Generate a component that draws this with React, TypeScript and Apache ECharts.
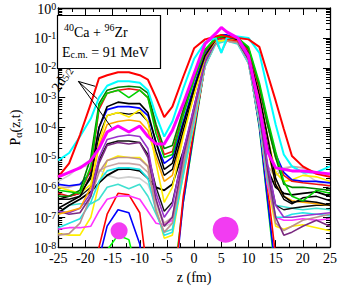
import React, { useEffect, useRef } from 'react';
import * as echarts from 'echarts';

// z positions (fm) where the curves are sampled
const Z = [-25, -23, -21, -19, -17.5, -16, -14, -12, -10, -8.5, -7, -5.5, -4, -2, 0, 2, 4, 5, 6, 8, 10, 12, 13.5, 15, 16.5, 18, 20, 22.5, 25];

// log10 of P_alpha(z,t)
const redLogP = [-5.65, -5.2, -4.25, -3.2, -2.35, -2.25, -2.15, -2.15, -2.25, -2.4, -3.0, -3.65, -3.3, -2.3, -1.35, -1.05, -0.95, -0.9, -0.95, -1.0, -1.05, -1.3, -2.2, -3.1, -4.05, -4.95, -5.3, -5.55, -5.65];
const cyanLogP = [-5.1, -4.85, -4.3, -3.7, -3.0, -2.6, -2.45, -2.45, -2.5, -2.75, -3.6, -4.3, -3.8, -2.7, -1.7, -1.15, -1.0, -1.5, -1.0, -0.95, -1.0, -1.5, -2.7, -3.9, -4.9, -5.3, -5.5, -5.5, -5.3];
const greenLogP = [-6.1, -6.15, -6.2, -5.3, -3.3, -2.85, -2.75, -3.0, -2.75, -3.0, -4.2, -5.0, -4.9, -3.6, -2.4, -1.4, -1.0, -0.95, -0.95, -1.0, -1.3, -2.5, -3.7, -4.8, -5.8, -6.3, -6.45, -6.1, -6.2];
const dkGreenLogP = [-6.3, -6.3, -6.1, -5.0, -3.2, -2.75, -2.65, -2.62, -2.65, -2.85, -3.9, -4.7, -4.6, -3.4, -2.3, -1.4, -1.0, -0.95, -0.95, -1.0, -1.35, -2.6, -3.9, -5.0, -5.9, -6.0, -6.0, -6.05, -6.1];
const red2LogP = [-6.2, -6.3, -6.2, -5.4, -3.4, -2.85, -2.75, -2.7, -2.75, -3.0, -4.0, -4.9, -4.8, -3.5, -2.4, -1.45, -1.05, -1.0, -1.05, -1.1, -1.4, -2.7, -3.9, -5.0, -5.6, -5.8, -5.85, -5.9, -5.95];
const blackLogP = [-6.7, -6.5, -6.3, -5.6, -4.0, -3.3, -3.15, -3.2, -3.2, -3.5, -4.5, -5.4, -5.2, -3.9, -2.7, -1.6, -1.05, -0.95, -0.95, -1.05, -1.5, -2.9, -4.3, -5.7, -6.3, -6.5, -6.45, -6.5, -6.6];
const blueLogP = [-5.9, -5.95, -5.9, -5.5, -4.0, -3.4, -3.3, -3.3, -3.35, -3.6, -4.5, -5.2, -5.0, -3.8, -2.6, -1.5, -1.0, -0.9, -0.9, -1.0, -1.4, -2.6, -3.8, -4.9, -5.5, -5.75, -5.8, -5.8, -5.85];
const yellowLogP = [-6.0, -6.1, -6.2, -5.9, -4.5, -3.6, -3.5, -3.65, -3.4, -3.8, -5.2, -6.5, -6.0, -4.3, -2.9, -1.6, -1.1, -1.1, -1.05, -1.1, -1.5, -3.0, -4.3, -5.5, -5.8, -5.75, -5.6, -5.65, -5.8];
const black2LogP = [-6.4, -6.3, -6.2, -5.7, -4.3, -3.6, -3.5, -3.55, -3.5, -3.8, -4.8, -5.6, -5.4, -4.1, -2.8, -1.6, -1.05, -1.0, -1.0, -1.05, -1.55, -3.1, -4.6, -5.9, -6.4, -6.55, -6.35, -6.3, -6.45];
const orangeLogP = [-6.9, -6.8, -6.7, -6.0, -4.6, -3.9, -3.8, -3.75, -3.8, -4.1, -5.0, -5.8, -5.6, -4.2, -2.9, -1.65, -1.05, -1.0, -1.0, -1.05, -1.55, -3.2, -4.7, -5.9, -6.3, -6.45, -6.5, -6.55, -6.6];
const magentaLogP = [-5.65, -5.5, -5.35, -5.1, -4.7, -4.15, -3.95, -4.15, -3.95, -4.3, -4.55, -4.55, -4.1, -3.2, -2.2, -1.2, -0.85, -0.65, -0.8, -1.0, -1.6, -3.3, -4.8, -5.35, -5.4, -5.45, -5.45, -5.5, -5.55];
const purpleLogP = [-6.8, -6.85, -6.7, -6.2, -5.0, -4.4, -4.3, -4.25, -4.3, -4.7, -6.2, -7.0, -6.6, -4.8, -3.3, -1.75, -1.1, -1.05, -1.05, -1.1, -1.65, -3.4, -5.2, -6.6, -7.0, -7.0, -6.95, -6.9, -6.85];
const violetLogP = [-6.8, -6.9, -6.85, -6.3, -5.2, -4.6, -4.5, -4.55, -4.5, -5.0, -6.4, -7.3, -7.0, -5.0, -3.4, -1.8, -1.1, -1.05, -1.05, -1.1, -1.7, -3.5, -5.4, -7.0, -7.6, -7.5, -7.3, -7.1, -7.3];
const black3LogP = [-6.4, -6.4, -6.3, -6.0, -5.1, -4.55, -4.45, -4.45, -4.5, -4.9, -6.0, -6.8, -6.5, -4.9, -3.3, -1.75, -1.1, -1.0, -1.0, -1.1, -1.7, -3.5, -5.3, -6.6, -6.75, -6.7, -6.65, -6.6, -6.6];
const rosyLogP = [-7.6, -7.55, -7.2, -6.3, -5.5, -5.1, -5.0, -5.0, -5.05, -5.3, -6.8, -7.5, -7.2, -5.3, -3.6, -1.85, -1.15, -1.45, -1.1, -1.15, -1.75, -3.6, -5.6, -7.2, -7.45, -7.3, -7.1, -7.0, -6.9];
const tanLogP = [-6.0, -6.0, -5.9, -5.7, -5.45, -5.3, -5.2, -5.2, -5.25, -5.5, -6.5, -7.2, -7.0, -5.2, -3.5, -1.85, -1.1, -1.5, -1.1, -1.15, -1.75, -3.6, -5.3, -5.6, -5.4, -5.3, -5.35, -5.5, -5.6];
const cyan2LogP = [-7.35, -7.2, -7.05, -6.5, -5.8, -5.45, -5.35, -5.35, -5.4, -5.7, -6.8, -7.6, -7.5, -5.5, -3.7, -1.9, -1.15, -1.1, -1.1, -1.15, -1.8, -3.7, -5.6, -7.0, -7.0, -6.9, -6.85, -6.9, -6.95];
const black4LogP = [-6.85, -6.6, -6.4, -6.15, -5.85, -5.6, -5.4, -5.38, -5.45, -5.7, -6.0, -6.1, -5.9, -4.8, -3.5, -1.85, -1.1, -1.05, -1.05, -1.1, -1.75, -3.6, -5.4, -6.0, -6.2, -6.25, -6.2, -6.15, -6.3];
const grayLogP = [-5.8, -5.6, -5.3, -5.3, -5.4, -5.6, -5.7, -5.65, -5.7, -5.9, -6.6, -7.3, -7.2, -5.4, -3.7, -1.9, -1.15, -1.1, -1.1, -1.15, -1.8, -3.7, -5.5, -5.5, -5.35, -5.3, -5.5, -5.8, -6.0];
const turqLogP = [-6.9, -6.6, -6.55, -6.55, -6.4, -6.0, -5.9, -6.05, -5.9, -6.3, -6.9, -7.5, -7.4, -5.6, -3.8, -1.95, -1.2, -1.15, -1.1, -1.2, -1.85, -3.8, -5.8, -6.6, -6.65, -6.7, -6.75, -6.7, -6.75];
const magenta2LogP = [-7.4, -7.35, -7.35, -7.3, -6.8, -6.4, -6.3, -6.28, -6.4, -6.8, -7.2, -7.25, -7.1, -5.5, -3.8, -1.95, -1.15, -1.1, -1.1, -1.15, -1.85, -3.8, -5.9, -7.0, -7.1, -7.1, -7.05, -7.1, -7.05];
const yellow2LogP = [-7.55, -7.6, -7.6, -7.0, -5.9, -5.1, -4.95, -5.0, -5.0, -5.3, -6.7, -7.7, -7.6, -5.6, -3.9, -1.95, -1.15, -1.1, -1.1, -1.15, -1.85, -3.8, -5.9, -7.3, -7.4, -7.3, -7.25, -7.35, -7.45];
const redSmallLogP = [-10, -10, -10, -9.5, -8.0, -6.9, -6.2, -6.25, -6.85, -9.0, -10, -10, -10, -6.3, -4.0, -1.95, -1.15, -1.05, -1.05, -1.15, -1.8, -3.8, -6.0, -8.3, -10, -10, -10, -10, -10];
const blueSmallLogP = [-10, -10, -10, -10, -8.4, -7.3, -6.75, -6.85, -7.9, -10, -10, -10, -10, -6.5, -4.1, -1.9, -1.1, -1.0, -1.0, -1.1, -1.75, -3.95, -6.4, -8.8, -10, -10, -10, -10, -10];
const greenSmallLogP = [-10, -10, -10, -10, -9.2, -8.1, -7.6, -7.75, -9.3, -10, -10, -10, -9.5, -6.5, -4.2, -1.9, -1.1, -1.0, -1.0, -1.1, -1.7, -4.0, -6.5, -9.0, -10, -10, -10, -10, -10];

// nuclei (z position, P value at their centre)
const nucleiZ = [-13.8, 5.8];
const nucleiP = [3.5e-8, 3.8e-8];

// 2d5/2 annotation arrows
const arrowFrom = [-21.3, 3.5e-3];
const arrowTo = [[-18.2, 2.4e-3], [-17.8, 9.1e-4], [-15.2, 1.0e-4]];

// y tick exponents
const yTickExp = [-8, -7, -6, -5, -4, -3, -2, -1, 0];

const FONT = '"Liberation Serif", "DejaVu Serif", "Times New Roman", serif';

const SERIES = [
  { data: greenSmallLogP, color: '#00ff00', width: 1.6 },
  { data: blueSmallLogP, color: '#0000ff', width: 1.6 },
  { data: redSmallLogP, color: '#ff0000', width: 1.6 },
  { data: yellow2LogP, color: '#ffee00', width: 1.6 },
  { data: magenta2LogP, color: '#ff33ff', width: 1.6 },
  { data: turqLogP, color: '#40e0d0', width: 1.6 },
  { data: grayLogP, color: '#cfcfcf', width: 1.6 },
  { data: black4LogP, color: '#000000', width: 1.8 },
  { data: cyan2LogP, color: '#22e5e5', width: 1.6 },
  { data: tanLogP, color: '#c9a7a7', width: 1.6 },
  { data: rosyLogP, color: '#bc8f8f', width: 1.6 },
  { data: black3LogP, color: '#111111', width: 1.4 },
  { data: violetLogP, color: '#7a2a80', width: 1.6 },
  { data: purpleLogP, color: '#9932cc', width: 1.6 },
  { data: orangeLogP, color: '#ffa500', width: 1.6 },
  { data: black2LogP, color: '#000000', width: 1.4 },
  { data: yellowLogP, color: '#ffee00', width: 1.6 },
  { data: blueLogP, color: '#0000ff', width: 1.6 },
  { data: blackLogP, color: '#000000', width: 1.6 },
  { data: red2LogP, color: '#ee1111', width: 1.5 },
  { data: dkGreenLogP, color: '#008000', width: 1.6 },
  { data: greenLogP, color: '#00d000', width: 1.6 },
  { data: cyanLogP, color: '#00ffff', width: 2 },
  { data: redLogP, color: '#ff0000', width: 2 },
  { data: magentaLogP, color: '#ff00ff', width: 3 },
];

const NUCLEUS_SIZES = [17, 26];

export default function App() {
  const ref = useRef<HTMLDivElement>(null);
  useEffect(() => {
    document.body.style.margin = '0';
    if (!ref.current) return;
    const chart = echarts.init(ref.current, undefined, { renderer: 'svg' });

    const majorY = yTickExp.map((e) => Math.pow(10, e));
    const minorY: number[] = [];
    for (let e = -8; e < 0; e++) for (let k = 2; k <= 9; k++) minorY.push(k * Math.pow(10, e));

    const axisLine = { show: true, onZero: false, lineStyle: { color: '#000', width: 1.3 } };
    const noLine = { show: false, onZero: false };
    const tickStyle = { color: '#000', width: 1 };
    const yBase: any = { type: 'log', logBase: 10, min: 1e-8, max: 1, splitLine: { show: false } };
    const xBase: any = { type: 'value', min: -25, max: 25, interval: 5, splitLine: { show: false } };

    const lineSeries: any[] = SERIES.map((s, i) => ({
      type: 'line',
      data: Z.map((z, j) => [z, Math.pow(10, s.data[j])]),
      showSymbol: false,
      symbol: 'none',
      lineStyle: { color: s.color, width: s.width },
      itemStyle: { color: s.color },
      clip: true,
      silent: true,
      z: 2 + i * 0.01,
    }));

    lineSeries.push({
      type: 'line',
      data: [],
      silent: true,
      markLine: {
        silent: true,
        symbol: ['none', 'arrow'],
        symbolSize: [0, 6],
        label: { show: false },
        lineStyle: { color: '#000', width: 1, type: 'solid' },
        data: arrowTo.map((t) => [{ coord: arrowFrom }, { coord: t }]),
      },
      z: 5,
    });

    lineSeries.push({
      type: 'scatter',
      data: nucleiZ.map((z, i) => [z, nucleiP[i]]),
      symbol: 'circle',
      symbolSize: (_v: any, p: any) => NUCLEUS_SIZES[p.dataIndex],
      itemStyle: { color: '#f23cf2', opacity: 1 },
      silent: true,
      z: 4,
    });

    const option: any = {
      animation: false,
      grid: { left: 46, right: 8, top: 7, bottom: 32 },
      xAxis: [
        {
          ...xBase,
          position: 'bottom',
          axisLine,
          axisTick: { show: true, inside: true, length: 7, lineStyle: tickStyle },
          minorTick: { show: true, splitNumber: 2, length: 4, lineStyle: tickStyle },
          axisLabel: { show: true, color: '#000', fontSize: 14, fontFamily: FONT, margin: 4 },
          name: 'z (fm)',
          nameLocation: 'middle',
          nameGap: 19,
          nameTextStyle: { color: '#000', fontSize: 14, fontFamily: FONT },
        },
        {
          ...xBase,
          position: 'top',
          axisLine,
          axisTick: { show: true, inside: true, length: 7, lineStyle: tickStyle },
          minorTick: { show: true, splitNumber: 2, length: 4, lineStyle: tickStyle },
          axisLabel: { show: false },
        },
      ],
      yAxis: [
        {
          ...yBase,
          position: 'left',
          splitNumber: 8,
          axisLine,
          axisTick: { show: true, inside: true, length: 7, lineStyle: tickStyle, customValues: majorY },
          axisLabel: {
            show: true,
            margin: 2,
            customValues: majorY,
            formatter: (v: number) => `{b|10}{s|${Math.round(Math.log10(v))}}`,
            rich: {
              b: { fontSize: 14, fontFamily: FONT, color: '#000', lineHeight: 14, padding: [2, 0, 0, 0] },
              s: { fontSize: 10, fontFamily: FONT, color: '#000', lineHeight: 10, verticalAlign: 'top' },
            },
          },
          name: '{n|P}{s|α}{n|(z,t)}',
          nameLocation: 'middle',
          nameRotate: 90,
          nameGap: 29,
          nameTextStyle: {
            color: '#000',
            rich: {
              n: { fontSize: 14, fontFamily: FONT, color: '#000', lineHeight: 16 },
              s: { fontSize: 10, fontFamily: FONT, color: '#000', lineHeight: 10, verticalAlign: 'bottom' },
            },
          },
        },
        {
          ...yBase,
          position: 'left',
          axisLine: noLine,
          axisTick: { show: true, inside: true, length: 4, lineStyle: tickStyle, customValues: minorY },
          axisLabel: { show: false },
        },
        {
          ...yBase,
          position: 'right',
          axisLine,
          axisTick: { show: true, inside: true, length: 7, lineStyle: tickStyle, customValues: majorY },
          axisLabel: { show: false },
        },
        {
          ...yBase,
          position: 'right',
          axisLine: noLine,
          axisTick: { show: true, inside: true, length: 4, lineStyle: tickStyle, customValues: minorY },
          axisLabel: { show: false },
        },
      ],
      series: lineSeries,
      graphic: [
        {
          type: 'rect',
          shape: { x: 57.5, y: 15.5, width: 103, height: 53 },
          style: { fill: '#fff', stroke: '#000', lineWidth: 1.2 },
          z: 100,
        },
        {
          type: 'text',
          x: 64,
          y: 22,
          style: {
            text: '{p|40}{n|Ca + }{p|96}{n|Zr}',
            fill: '#000',
            rich: {
              n: { fontSize: 14, fontFamily: FONT, fill: '#000', lineHeight: 14, padding: [6, 0, 0, 0] },
              p: { fontSize: 10, fontFamily: FONT, fill: '#000', lineHeight: 10, verticalAlign: 'top' },
            },
          },
          z: 101,
        },
        {
          type: 'text',
          x: 62,
          y: 45,
          style: {
            text: '{n|E}{s|c.m.}{n| = 91 MeV}',
            fill: '#000',
            rich: {
              n: { fontSize: 14, fontFamily: FONT, fill: '#000', lineHeight: 14 },
              s: { fontSize: 10, fontFamily: FONT, fill: '#000', lineHeight: 10, verticalAlign: 'bottom', padding: [4, 0, 0, 0] },
            },
          },
          z: 101,
        },
        {
          type: 'text',
          x: 62,
          y: 79,
          rotation: Math.PI * 0.32,
          style: {
            text: '{n|2d}{s|5/2}',
            align: 'center',
            verticalAlign: 'middle',
            fill: '#000',
            rich: {
              n: { fontSize: 14, fontFamily: FONT, fill: '#000', lineHeight: 14 },
              s: { fontSize: 10, fontFamily: FONT, fill: '#000', lineHeight: 10, verticalAlign: 'bottom', padding: [4, 0, 0, 0] },
            },
          },
          z: 101,
        },
      ],
    };
    chart.setOption(option);
    return () => chart.dispose();
  }, []);
  return <div ref={ref} style={{ width: 340, height: 289 }} />;
}
